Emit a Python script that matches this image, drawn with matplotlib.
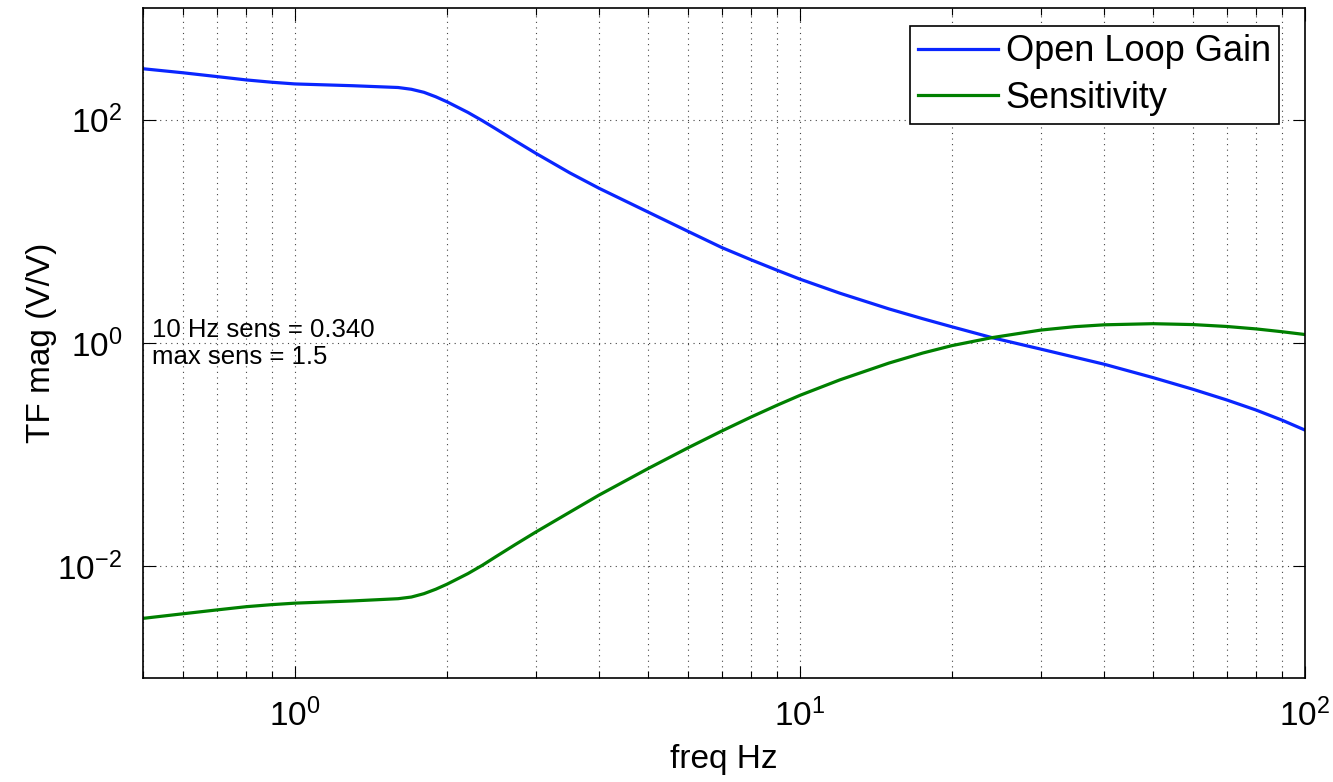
import matplotlib
matplotlib.use("Agg")
import matplotlib.pyplot as plt
from matplotlib.ticker import FixedLocator, FixedFormatter, NullLocator, LogLocator, NullFormatter

plt.rcParams['font.family'] = ['Liberation Sans', 'DejaVu Sans']
plt.rcParams['mathtext.fontset'] = 'custom'
plt.rcParams['mathtext.rm'] = 'Liberation Sans'
plt.rcParams['mathtext.it'] = 'Liberation Sans:italic'
plt.rcParams['mathtext.bf'] = 'Liberation Sans:bold'

# ---- data ----
freq = [0.5, 0.6, 0.7, 0.8, 0.9, 1.0, 1.3, 1.6, 1.7, 1.8, 1.9, 2.0, 2.2, 2.35, 2.5, 2.73,
        3.0, 3.5, 4.0, 5.0, 6.0, 7.0, 8.0, 9.0, 10.0, 12.0, 15.0, 17.5, 20.0, 24.0, 30.0,
        35.0, 40.0, 50.0, 60.0, 70.0, 80.0, 90.0, 100.0]
open_loop_gain = [285.8, 263.0, 243.2, 227.0, 216.3, 208.9, 201.4, 194.1, 187.1, 175.8,
                  160.3, 144.5, 116.1, 97.9, 82.6, 64.6, 49.9, 33.4, 24.3, 14.9, 10.0,
                  7.16, 5.56, 4.49, 3.73, 2.79, 2.02, 1.65, 1.396, 1.117, 0.881, 0.746,
                  0.646, 0.490, 0.385, 0.309, 0.251, 0.204, 0.166]
sensitivity = [0.00342, 0.00376, 0.00407, 0.00435, 0.00454, 0.00468, 0.00490, 0.00513,
               0.00531, 0.00569, 0.00624, 0.00692, 0.00861, 0.01023, 0.01222, 0.01567,
               0.02032, 0.03055, 0.04345, 0.0750, 0.1151, 0.1629, 0.2173, 0.2767, 0.340,
               0.468, 0.661, 0.813, 0.948, 1.117, 1.306, 1.400, 1.455, 1.489, 1.462,
               1.406, 1.337, 1.262, 1.191]
series_labels = ["Open Loop Gain", "Sensitivity"]
annotation = "10 Hz sens = 0.340\nmax sens = 1.5"
xticks = [1, 10, 100]
xticklabels = [r"$10^{0}$", r"$10^{1}$", r"$10^{2}$"]
yticks = [1e-2, 1, 1e2]
yticklabels = [r"$10^{-2}$", r"$10^{0}$", r"$10^{2}$"]

W, H = 1333, 782
fig = plt.figure(figsize=(W / 100, H / 100), dpi=100)
ax = fig.add_axes([143 / W, 1 - 678 / H, (1305 - 143) / W, (678 - 8) / H])

ax.loglog(freq, open_loop_gain, color='#0a26ff', lw=2.3, label=series_labels[0])
ax.loglog(freq, sensitivity, color='#008000', lw=2.3, label=series_labels[1])

ax.set_xlim(0.5, 100)
ax.set_ylim(1e-3, 1e3)

ax.xaxis.set_major_locator(FixedLocator(xticks))
ax.xaxis.set_major_formatter(FixedFormatter(xticklabels))
ax.xaxis.set_minor_locator(LogLocator(base=10, subs=[2, 3, 4, 5, 6, 7, 8, 9], numticks=20))
ax.xaxis.set_minor_formatter(NullFormatter())
ax.yaxis.set_major_locator(FixedLocator(yticks))
ax.yaxis.set_major_formatter(FixedFormatter(yticklabels))
ax.yaxis.set_minor_locator(NullLocator())

ax.tick_params(which='both', direction='in', top=True, right=True, width=0.8, colors='black')
ax.tick_params(which='major', length=9, labelsize=24)
ax.tick_params(axis='y', which='major', pad=15)
ax.tick_params(axis='x', which='major', pad=15)
ax.tick_params(which='minor', length=5)

ax.grid(True, which='major', axis='both', linestyle=(0, (1, 4)), color='#444444', lw=0.8)
ax.grid(True, which='minor', axis='x', linestyle=(0, (1, 4)), color='#444444', lw=0.8)

for s in ax.spines.values():
    s.set_linewidth(1.2)

ax.set_xlabel("freq Hz", fontsize=24)
ax.set_ylabel("TF mag (V/V)", fontsize=24)
ax.xaxis.set_label_coords(0.5, -0.098)
ax.yaxis.set_label_coords(-0.074, 0.5)

ax.text(0.52, 0.99, annotation, fontsize=18.5, va='center', ha='left', linespacing=1.2)

leg = ax.legend(loc='upper right', bbox_to_anchor=(1279 / W, 1 - 26 / H),
                bbox_transform=fig.transFigure, borderaxespad=0, fontsize=26,
                handlelength=2.2, handletextpad=0.22, labelspacing=0.32,
                borderpad=0.23, fancybox=False, framealpha=1, edgecolor='black')
leg.get_frame().set_linewidth(1.2)

fig.savefig("out.png", dpi=100)
